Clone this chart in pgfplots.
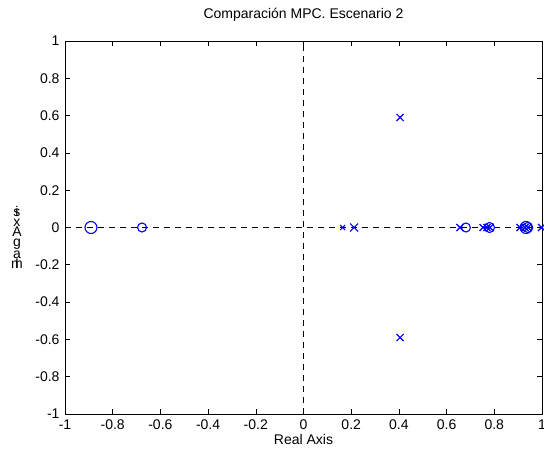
\documentclass[border=0pt]{standalone}
\usepackage{fontspec}
\setmainfont{Liberation Sans}
\usepackage{pgfplots}
\pgfplotsset{compat=1.18}
\definecolor{pzblue}{RGB}{0,0,255}

\begin{document}
\begin{tikzpicture}[font=\fontsize{14}{16}\selectfont]
\begin{axis}[
    at={(0,0)}, anchor=south west,
    scale only axis,
    width=477pt, height=373pt,
    xmin=-1, xmax=1, ymin=-1, ymax=1,
    xtick={-1,-0.8,-0.6,-0.4,-0.2,0,0.2,0.4,0.6,0.8,1},
    ytick={-1,-0.8,-0.6,-0.4,-0.2,0,0.2,0.4,0.6,0.8,1},
    /pgf/number format/assume math mode=true,
    tick align=inside,
    major tick length=5pt,
    tick style={black, line width=0.6pt},
    axis line style={black, line width=0.8pt},
    tick label style={font=\fontsize{14}{16}\selectfont},
    xticklabel style={yshift=-2pt},
    yticklabel style={xshift=-2pt},
    title={Comparación MPC. Escenario 2},
    title style={at={(axis description cs:0.5,1)}, anchor=base, yshift=16pt},
    xlabel={Real Axis},
    xlabel style={at={(axis description cs:0.5,0)}, anchor=base, yshift=-31pt},
    clip=false,
]
% dashed reference lines
\addplot[black, line width=0.6pt, dash pattern=on 6pt off 5pt] coordinates {(-1,0) (1,0)};
\addplot[black, line width=0.6pt, dash pattern=on 6pt off 5pt] coordinates {(0,-1) (0,1)};

% zeros
\addplot[only marks, pzblue, mark=o, mark size=6pt, line width=1.1pt] coordinates {(-0.891,0) (0.933,0)};
\addplot[only marks, pzblue, mark=o, mark size=4.5pt, line width=1.1pt] coordinates {(-0.677,0) (0.681,0)};
\addplot[only marks, pzblue, mark=o, mark size=5pt, line width=1.1pt] coordinates {(0.780,0) (0.940,0)};

% poles
\addplot[only marks, pzblue, mark=x, mark size=3.5pt, line width=1.1pt] coordinates {(0.164,0)};
\addplot[only marks, pzblue, mark=x, mark size=5.7pt, line width=1.1pt] coordinates {(0.212,0)};
\addplot[only marks, pzblue, mark=x, mark size=5pt, line width=1.2pt] coordinates {
    (0.405,0.59) (0.405,-0.59) (0.656,0) (0.753,0) (0.769,0) (0.782,0)
    (0.908,0) (0.929,0) (0.941,0) (0.998,0)
};

% vertical axis label
\node[align=center, font=\fontsize{14}{10}\selectfont]
  at (rel axis cs:0,0.473) [xshift=-48pt]
  {\makebox[0pt]{s}\makebox[0pt]{i}\\x\\A\\g\\a\\\makebox[0pt]{m}\makebox[0pt]{I}};
\end{axis}
\pgfresetboundingbox
\path[use as bounding box] (-65pt,-36pt) rectangle (479pt,414pt);
\end{tikzpicture}
\end{document}
